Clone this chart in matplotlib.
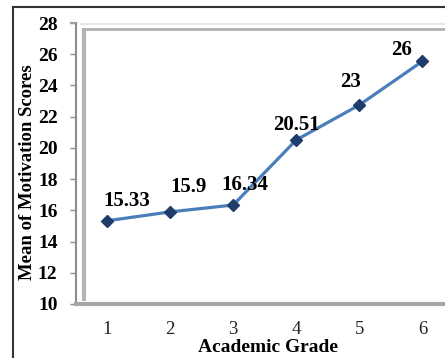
import matplotlib
matplotlib.use("Agg")
import matplotlib.pyplot as plt
from matplotlib.lines import Line2D

grades = [1, 2, 3, 4, 5, 6]
scores = [15.33, 15.9, 16.34, 20.51, 22.75, 25.55]
labels = ["15.33", "15.9", "16.34", "20.51", "23", "26"]
yticks = [10, 12, 14, 16, 18, 20, 22, 24, 26, 28]

# label offsets in pixels (dx, dy)
offsets = [(20, 20), (18, 25), (12, 20), (0, 15), (-9, 23), (-21, 11)]

W, H = 445, 358
fig = plt.figure(figsize=(W / 100, H / 100), dpi=100)
plt.rcParams['font.family'] = ['Liberation Serif', 'DejaVu Serif']

def fx(px):
    return px / W

def fy(py):
    return (H - py) / H

ax_l, ax_r, ax_t, ax_b = 75.5, 454, 23, 304
ax = fig.add_axes([fx(ax_l), fy(ax_b), fx(ax_r - ax_l), (ax_b - ax_t) / H])
ax.set_xlim(0.5, 6.5)
ax.set_ylim(10, 28)
ax.set_facecolor('none')

ax.plot(grades, scores, color='#4a7ebb', lw=2.3, marker='D', ms=6,
        mfc='#1f3d6b', mec='#1f3d6b', zorder=3, clip_on=False)

for x, y, t, (dx, dy) in zip(grades, scores, labels, offsets):
    ax.annotate(t, (x, y), xytext=(dx, dy), textcoords='offset pixels',
                ha='center', va='center', fontsize=15, fontweight='bold',
                color='black', annotation_clip=False)

ax.set_yticks(yticks)
ax.set_yticklabels([str(v) for v in yticks], fontsize=14, fontweight='bold')
ax.set_xticks(grades)
ax.set_xticklabels([str(g) for g in grades], fontsize=13.5, color='#222222')
ax.tick_params(axis='y', length=4, width=1, color='#8c8c8c', pad=9)
ax.tick_params(axis='x', length=0, pad=12)

for s in ['top', 'right']:
    ax.spines[s].set_visible(False)
ax.spines['left'].set_color('#8c8c8c')
ax.spines['left'].set_linewidth(1.5)
ax.spines['bottom'].set_color('#a6a6a6')
ax.spines['bottom'].set_linewidth(3)

ax.set_xlabel('Academic Grade', fontsize=14, fontweight='bold')
ax.xaxis.set_label_coords((268 - ax_l) / (ax_r - ax_l), -(339 - ax_b) / (ax_b - ax_t))
ax.set_ylabel('Mean of Motivation Scores', fontsize=13.5, fontweight='bold')
ax.yaxis.set_label_coords(-(ax_l - 36) / (ax_r - ax_l), (ax_b - 172) / (ax_b - ax_t))

# Excel-style 3D wall frame
wall = dict(transform=fig.transFigure, solid_capstyle='butt')
fig.add_artist(Line2D([fx(83.5), fx(83.5)], [fy(28), fy(301)], color='#b4b4b4', lw=3.0, **wall))
fig.add_artist(Line2D([fx(82), W], [fy(28.5), fy(28.5)], color='#b0b0b0', lw=2.0, **wall))
fig.add_artist(Line2D([fx(80), W], [fy(24), fy(24)], color='#e6e6e6', lw=1.5, **wall))
fig.add_artist(Line2D([fx(70), fx(76)], [fy(22.5), fy(22.5)], color='#a0a0a0', lw=1.5, **wall))

# outer border
fig.add_artist(Line2D([fx(12.5), 1], [fy(6.5), fy(6.5)], color='#333333', lw=1.5,
                      transform=fig.transFigure))
fig.add_artist(Line2D([fx(12.5), fx(12.5)], [fy(6.5), 0], color='#333333', lw=1.5,
                      transform=fig.transFigure))

fig.savefig('out.png', dpi=100)
